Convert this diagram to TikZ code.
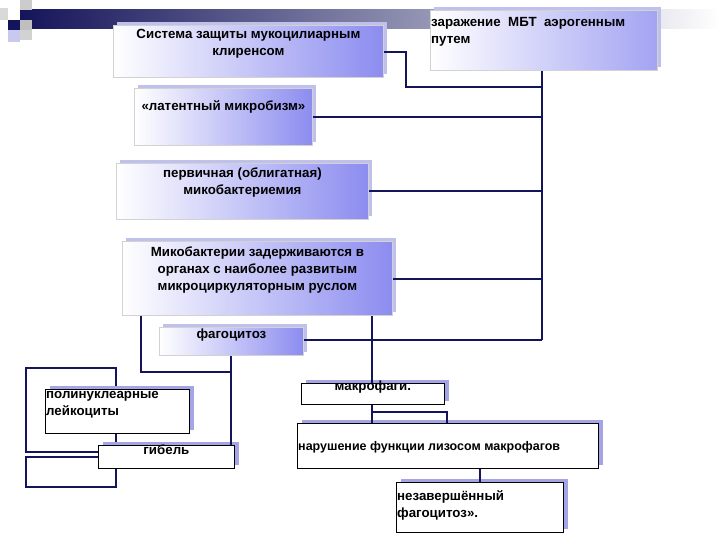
\documentclass[tikz,border=0pt]{standalone}
\usepackage{fontspec}
\setmainfont{Liberation Sans}
\usetikzlibrary{shadows}
\definecolor{navy}{RGB}{20,20,90}
\definecolor{lav}{RGB}{165,165,230}
\definecolor{gblue}{RGB}{140,140,240}
\tikzset{
 gbox/.style={draw=gray!35, line width=0.8pt, left color=white, right color=gblue, copy shadow={shadow xshift=4pt, shadow yshift=3pt, fill=lav!70, draw=none}, inner sep=0pt, anchor=north west},
 wbox/.style={draw=black, line width=0.8pt, fill=white, copy shadow={shadow xshift=5pt, shadow yshift=3pt, fill=lav, draw=none}, inner sep=0pt, anchor=north west},
 txt/.style={font=\fontsize{13.3}{17}\selectfont\bfseries, align=center, inner sep=2pt},
 ltxt/.style={font=\fontsize{13.3}{17}\selectfont\bfseries, align=left, inner sep=1pt},
 conn/.style={draw=navy, line width=2.2pt},
}
\begin{document}
\begin{tikzpicture}[x=1pt,y=-1pt]
\useasboundingbox (0,0) rectangle (720,540);
% header decoration
\shade[left color=navy, right color=navy!45] (20,10) rectangle (430,29);
\shade[left color=navy!45, right color=white] (430,10) rectangle (720,29);
\fill[navy] (8,20) rectangle (20,30);
\fill[gray!40] (20,0) rectangle (32,10);
\fill[gray!30] (0,8) rectangle (8,20);
\fill[gray!50] (20,20) rectangle (32,30);
\fill[gray!35] (20,30) rectangle (32,40);
\fill[lav!60] (8,30) rectangle (20,42);
% boxes
\node[gbox, minimum width=270, minimum height=52] (sys) at (113,25) {};
\node[txt, anchor=north] at (sys.north) [yshift=-2] {Система защиты мукоцилиарным\\клиренсом};
\node[gbox, minimum width=227, minimum height=60, right color=gblue!80] (zar) at (430,10) {};
\node[ltxt, anchor=north west] at (zar.north west) [yshift=-6] {заражение \ МБТ \ аэрогенным\\путем};
\node[gbox, minimum width=178, minimum height=57] (lat) at (134,88) {};
\node[txt, anchor=north] at (lat.north) [yshift=-10] {«латентный микробизм»};
\node[gbox, minimum width=252, minimum height=56] (prim) at (116,163) {};
\node[txt, anchor=north] at (prim.north) [yshift=-3] {первичная (облигатная)\\микобактериемия};
\node[gbox, minimum width=270, minimum height=74] (myc) at (122,241) {};
\node[txt, anchor=north] at (myc.north) [yshift=-4] {Микобактерии задерживаются в\\органах с наиболее развитым\\микроциркуляторным руслом};
\node[gbox, minimum width=144, minimum height=28] (fag) at (159,327) {};
\node[txt, anchor=north] at (fag.north) [yshift=0] {фагоцитоз};
% left frames
\draw[conn] (26,368) rectangle (116,452);
\draw[conn] (26,457) rectangle (116,487);
% connectors
\coordinate (t1) at (542,87);
\coordinate (t2) at (542,340);
\coordinate (k1) at (406,52);
\coordinate (k2) at (406,87);
\draw[conn] (zar.south -| t1) -- (t2);
\draw[conn] (sys.east |- k1) -- (k1) -- (k2) -- (t1);
\draw[conn] (lat.east |- 0,117) -- (542,117);
\draw[conn] (prim.east |- 0,191) -- (542,191);
\draw[conn] (myc.east |- 0,279) -- (542,279);
\draw[conn] (fag.east |- t2) -- (t2);
\coordinate (l1) at (141,372);
\draw[conn] (myc.south -| l1) -- (l1) -- (231,372);
\node[wbox, minimum width=144, minimum height=44] (pol) at (45,389) {};
\node[ltxt, anchor=north west] at (pol.north west) [yshift=-1] {полинуклеарные\\лейкоциты};
\node[wbox, minimum width=136, minimum height=23] (gib) at (98,445) {};
\node[txt, anchor=north] at (gib.north) [yshift=2] {гибель};
\draw[conn] (fag.south -| 231,0) -- (gib.north -| 231,0);
\node[wbox, minimum width=143, minimum height=21] (mac) at (301,383) {};
\node[txt, anchor=north] at (mac.north) [yshift=4] {макрофаги.};
\draw[conn] (myc.south -| 372,0) -- (mac.north -| 372,0);
\node[wbox, minimum width=301, minimum height=45] (nar) at (297,423) {};
\node[ltxt, anchor=west, font=\fontsize{12.5}{15}\selectfont\bfseries] at (nar.west) [yshift=-1] {нарушение функции лизосом макрофагов};
\draw[conn] (mac.south -| 372,0) -- (nar.north -| 372,0);
\draw[conn] (372,412) -- (447,412) -- (nar.north -| 447,0);
\node[wbox, minimum width=167, minimum height=50] (nez) at (396,482) {};
\node[ltxt, anchor=north west] at (nez.north west) [yshift=-7] {незавершённый\\фагоцитоз».};
\draw[conn] (nar.south -| 480,0) -- (nez.north -| 480,0);
\end{tikzpicture}
\end{document}
